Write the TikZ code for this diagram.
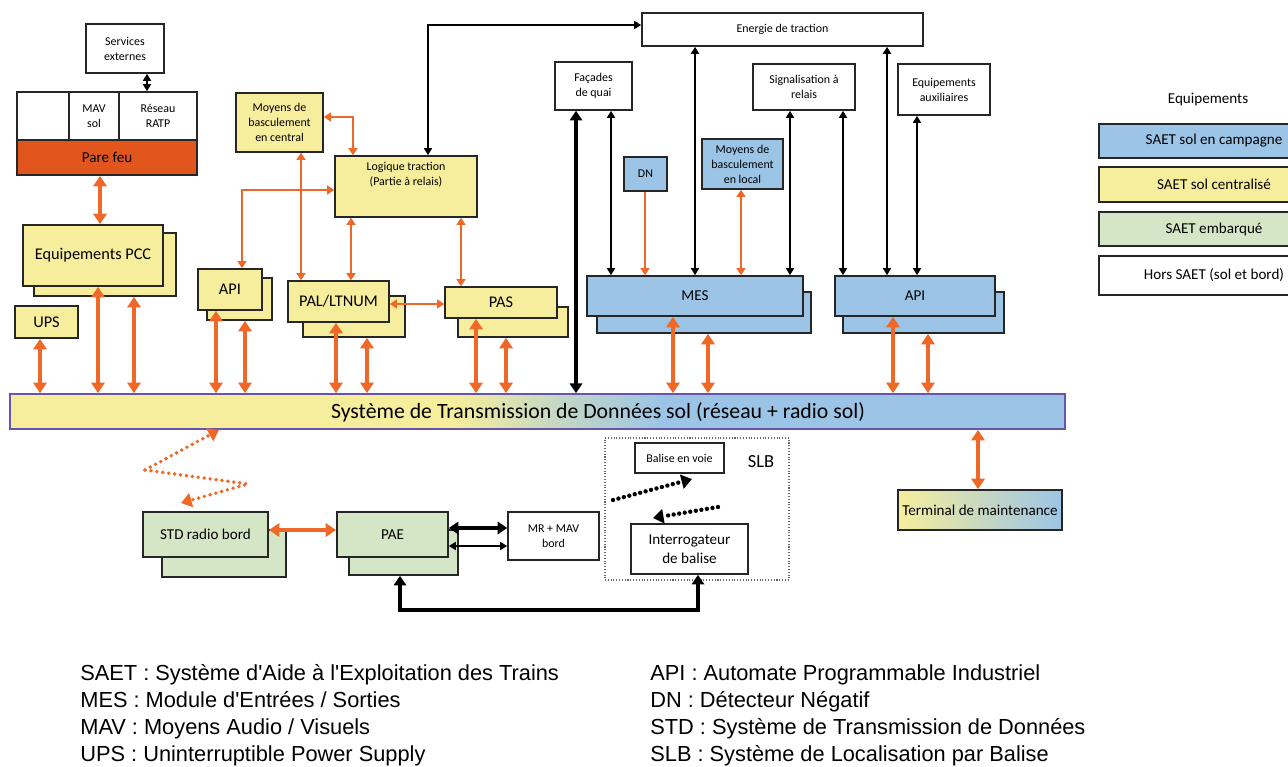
\documentclass[tikz,border=0pt]{standalone}
\usepackage{fontspec}
\setmainfont{Carlito}
\newfontfamily\legendfont{Liberation Sans}
\usetikzlibrary{arrows.meta,shadings}

\definecolor{saetyellow}{RGB}{246,238,156}
\definecolor{saetblue}{RGB}{155,196,230}
\definecolor{saetgreen}{RGB}{212,230,198}
\definecolor{linkorange}{RGB}{240,104,40}
\definecolor{firewallred}{RGB}{226,86,30}
\definecolor{busframe}{RGB}{104,84,168}

\pgfdeclarehorizontalshading{busshade}{100bp}{color(0bp)=(saetyellow); color(46bp)=(saetyellow); color(51bp)=(saetyellow!45!saetblue); color(56bp)=(saetblue); color(100bp)=(saetblue)}

\newcommand\fsmall{\fontsize{6.8}{8.5}\selectfont}
\newcommand\fmid{\fontsize{8.6}{10.8}\selectfont}
\newcommand\fbig{\fontsize{9.3}{11}\selectfont}
\newcommand\fbus{\fontsize{12.4}{14}\selectfont}

\tikzset{
  boxat/.style args={#1/#2/#3/#4}{minimum width={(#3-#1)*0.02cm}, minimum height={(#4-#2)*0.02cm}, at={({(#1+#3)/2},{(#2+#4)/2})}},
  box/.style={draw=black!85, line width=0.9pt, inner sep=0pt, align=center, font=\fmid},
  ybox/.style={box, fill=saetyellow},
  bbox/.style={box, fill=saetblue},
  gbox/.style={box, fill=saetgreen},
  wbox/.style={box, fill=white},
  olink/.style={draw=linkorange, line width=1.2pt, {Triangle[length=4pt,width=5pt]}-{Triangle[length=4pt,width=5pt]}},
  oone/.style={olink, -{Triangle[length=4pt,width=5pt]}},
  obig/.style={draw=linkorange, line width=1.8pt, {Triangle[length=6pt,width=7.5pt]}-{Triangle[length=6pt,width=7.5pt]}},
  klink/.style={draw=black, line width=1.1pt, {Triangle[length=4pt,width=4.5pt]}-{Triangle[length=4pt,width=4.5pt]}},
  kbig/.style={draw=black, line width=2.2pt, {Triangle[length=5.5pt,width=7pt]}-{Triangle[length=5.5pt,width=7pt]}},
  odots/.style={draw=linkorange, line width=2.2pt, line cap=round, dash pattern=on 0pt off 3.4pt, -{Triangle[length=6pt,width=8pt]}},
  kdots/.style={draw=black, line width=2.5pt, line cap=round, dash pattern=on 0pt off 3.2pt, -{Triangle[length=6pt,width=8pt]}},
  defn/.style={anchor=base west, inner sep=0pt, font=\legendfont\fontsize{12.4}{14}\selectfont},
}

\begin{document}
\begin{tikzpicture}[x=0.02cm,y=-0.02cm]
\useasboundingbox (0,0) rectangle (1288,767);
\clip (0,0) rectangle (1288,767);

% poste central
\node[wbox, font=\fsmall, boxat=86/24/164/73] (servext) {Services\\externes};
\node[wbox, boxat=17/92/69/140] (cellvide) {};
\node[wbox, font=\fsmall, boxat=69/92/119/140] (mavsol) {MAV\\sol};
\node[wbox, font=\fsmall, boxat=119/92/197/140] (ratp) {Réseau\\RATP};
\node[box, fill=firewallred, boxat=17/140/197/175] (parefeu) {Pare feu};

\node[ybox, boxat=34/233/176/296] (pccS) {};
\node[ybox, font=\fbig, boxat=23/225/163/286] (pcc) {Equipements PCC};
\node[ybox, font=\fbig, boxat=15/306/78/338] (ups) {UPS};

\node[ybox, font=\fsmall, boxat=236/93/323/152] (basccentral) {Moyens de\\basculement\\en central};
\node[ybox, font=\fsmall, boxat=335/156/477/217] (logique) {Logique traction\\(Partie à relais)\\[6pt]};

\node[ybox, boxat=207/278/272/320] (apiS) {};
\node[ybox, font=\fbig, boxat=198/269/262/310] (apipcc) {API};
\node[ybox, boxat=303/296/405/337] (palS) {};
\node[ybox, font=\fbig, boxat=288/281/389/322] (pal) {PAL/LTNUM};
\node[ybox, boxat=458/307/568/337] (pasS) {};
\node[ybox, font=\fbig, boxat=445/287/557/318] (pas) {PAS};

% ligne
\node[wbox, font=\fsmall, boxat=642/13/923/46] (energie) {Energie de traction};
\node[wbox, font=\fsmall, boxat=555/62/632/110] (facades) {Façades\\de quai};
\node[wbox, font=\fsmall, boxat=753/64/855/110] (signal) {Signalisation à\\relais};
\node[wbox, font=\fsmall, boxat=898/64/990/115] (auxil) {Equipements\\auxiliaires};
\node[bbox, font=\fsmall, boxat=624/157/667/191] (dn) {DN};
\node[bbox, font=\fsmall, boxat=702/139/783/189] (basclocal) {Moyens de\\basculement\\en local};

\node[bbox, boxat=597/292/811/333] (mesS) {};
\node[bbox, boxat=587/276/803/316] (mes) {MES};
\node[bbox, boxat=843/292/1004/333] (apiligneS) {};
\node[bbox, boxat=835/276/995/316] (apiligne) {API};

% reseau sol
\node[draw=busframe, line width=1pt, shading=busshade, inner sep=0pt, boxat=10/394/1065/429] (std) {};
\node[font=\fbus] (stdtexte) at (598,412) {Système de Transmission de Données sol (réseau + radio sol)};

\node[box, left color=saetyellow, right color=saetblue, boxat=898/490/1062/530] (terminal) {Terminal de maintenance};

% bord
\node[gbox, boxat=162/530/286/577] (stdbordS) {};
\node[gbox, boxat=143/512/268/557] (stdbord) {STD radio bord};
\node[gbox, boxat=349/530/458/575] (paeS) {};
\node[gbox, boxat=337/512/448/557] (pae) {PAE};
\node[wbox, font=\fsmall, boxat=508/512/599/560] (mrmav) {MR + MAV\\bord};

\node[draw=black!60, densely dotted, line width=0.6pt, inner sep=0pt, boxat=605/438/789/580] (slb) {};
\node[font=\fontsize{10.5}{12}\selectfont] (slbtitre) at (761,462) {SLB};
\node[wbox, font=\fsmall, boxat=635/443/724/473] (balise) {Balise en voie};
\node[wbox, boxat=631/524/748/574] (interro) {Interrogateur\\de balise};

% legende
\node[font=\fmid] (legtitre) at (1208,100) {Equipements};
\node[bbox, boxat=1099/124/1329/158] (legcampagne) {SAET sol en campagne};
\node[ybox, boxat=1099/167/1329/202] (legcentral) {SAET sol centralisé};
\node[gbox, boxat=1099/212/1329/246] (legbord) {SAET embarqué};
\node[wbox, boxat=1099/256/1329/295] (leghors) {Hors SAET (sol et bord)};

% liaisons orange
\draw[obig] (100,0 |- parefeu.south) -- (100,0 |- pcc.north);
\draw[obig] (40,0 |- ups.south) -- (40,0 |- std.north);
\draw[obig] (98,0 |- pcc.south) -- (98,0 |- std.north);
\draw[obig] (134,0 |- pccS.south) -- (134,0 |- std.north);
\draw[obig] (216,0 |- apipcc.south) -- (216,0 |- std.north);
\draw[obig] (245,0 |- apiS.south) -- (245,0 |- std.north);
\draw[obig] (336,0 |- pal.south) -- (336,0 |- std.north);
\draw[obig] (367,0 |- palS.south) -- (367,0 |- std.north);
\draw[obig] (476,0 |- pas.south) -- (476,0 |- std.north);
\draw[obig] (506,0 |- pasS.south) -- (506,0 |- std.north);
\draw[obig] (673,0 |- mes.south) -- (673,0 |- std.north);
\draw[obig] (708,0 |- mesS.south) -- (708,0 |- std.north);
\draw[obig] (893,0 |- apiligne.south) -- (893,0 |- std.north);
\draw[obig] (928,0 |- apiligneS.south) -- (928,0 |- std.north);
\draw[obig] (978,0 |- std.south) -- (978,0 |- terminal.north);
\draw[obig] (stdbord.east |- 0,530) -- (pae.west |- 0,530);

\draw[olink] (basccentral.east |- 0,117) -| (353,0 |- logique.north);
\draw[olink] (301,0 |- basccentral.south) -- (301,0 |- pal.north);
\draw[olink] (242,0 |- apipcc.north) |- (logique.west |- 0,190);
\draw[olink] (351,0 |- logique.south) -- (351,0 |- pal.north);
\draw[olink] (461,0 |- logique.south) -- (461,0 |- pas.north);
\draw[olink] (pal.east |- 0,304) -- (pas.west |- 0,304);
\draw[oone] (645,0 |- dn.south) -- (645,0 |- mes.north);
\draw[olink] (741,0 |- basclocal.south) -- (741,0 |- mes.north);

% liaisons noires
\draw[klink] (147,0 |- servext.south) -- (147,0 |- ratp.north);
\draw[klink] (428,0 |- logique.north) |- (energie.west |- 0,25);
\draw[kbig] (576,0 |- facades.south) -- (576,0 |- std.north);
\draw[klink] (611,0 |- facades.south) -- (611,0 |- mes.north);
\draw[klink] (695,0 |- energie.south) -- (695,0 |- mes.north);
\draw[klink] (790,0 |- signal.south) -- (790,0 |- mes.north);
\draw[klink] (843,0 |- signal.south) -- (843,0 |- apiligne.north);
\draw[klink] (887,0 |- energie.south) -- (887,0 |- apiligne.north);
\draw[klink] (917,0 |- auxil.south) -- (917,0 |- apiligne.north);
\draw[kbig] (pae.east |- 0,528) -- (mrmav.west |- 0,528);
\draw[klink] (pae.east |- 0,546) -- (mrmav.west |- 0,546);
\draw[kbig] (400,0 |- paeS.south) -- (400,610) -| (698,0 |- interro.south);

% radio
\coordinate (ondeA) at (145,470);
\coordinate (ondeB) at (248,484);
\coordinate (ondeC) at (181,503);
\draw[odots] (ondeA) -- (219,0 |- std.south);
\draw[odots] (ondeA) -- (ondeB) -- (ondeC);
\coordinate (baliseA) at (613,500);
\coordinate (baliseB) at (692,479);
\coordinate (baliseC) at (718,507);
\coordinate (baliseD) at (653,518);
\draw[kdots] (baliseA) -- (baliseB);
\draw[kdots] (baliseC) -- (baliseD);

% sigles
\node[defn] (defsaet) at (80,680) {SAET : Système d'Aide à l'Exploitation des Trains};
\node[defn] (defmes) at (80,707) {MES : Module d'Entrées / Sorties};
\node[defn] (defmav) at (80,734) {MAV : Moyens Audio / Visuels};
\node[defn] (defups) at (80,761) {UPS : Uninterruptible Power Supply};
\node[defn] (defapi) at (650,680) {API : Automate Programmable Industriel};
\node[defn] (defdn) at (650,707) {DN : Détecteur Négatif};
\node[defn] (defstd) at (650,734) {STD : Système de Transmission de Données};
\node[defn] (defslb) at (650,761) {SLB : Système de Localisation par Balise};
\end{tikzpicture}
\end{document}
